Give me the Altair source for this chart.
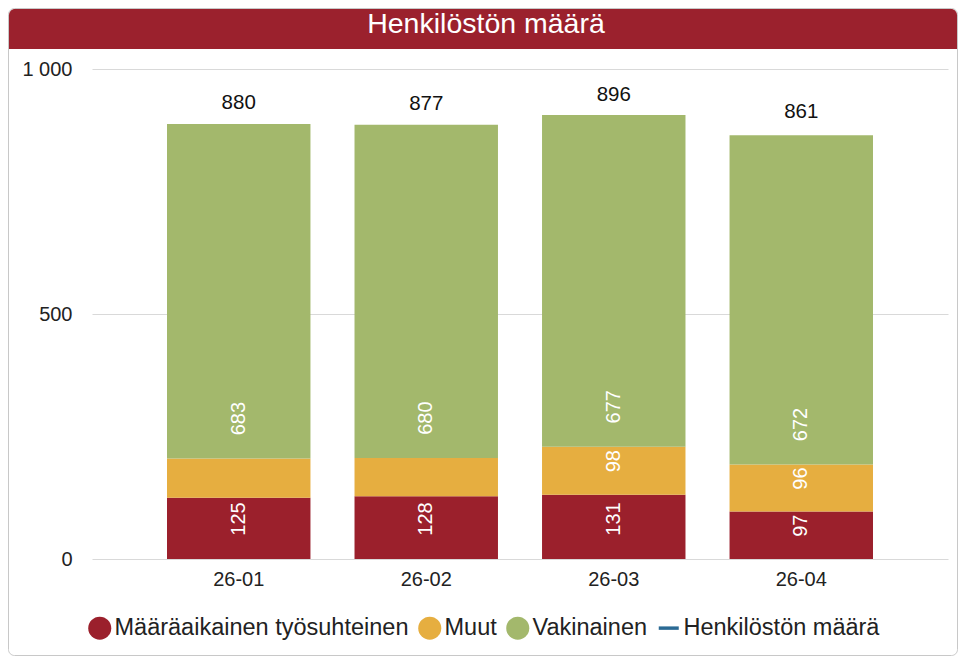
import altair as alt
import pandas as pd

kuukaudet = ["26-01", "26-02", "26-03", "26-04"]
maaraaikainen = [125, 128, 131, 97]
muut = [80, 78, 98, 96]
vakinainen = [683, 680, 677, 672]
henkilosto = [880, 877, 896, 861]
muut_nakyva = [False, False, True, True]

sarjat = ["Määräaikainen työsuhteinen", "Muut", "Vakinainen", "Henkilöstön määrä"]
varit = ["#9B202C", "#E6AE40", "#A3B86C", "#2B6A94"]
FONT = "Liberation Sans"

rows = []
for i, kk in enumerate(kuukaudet):
    rows.append({"kk": kk, "sarja": sarjat[0], "arvo": maaraaikainen[i], "jarj": 0, "nayta": True})
    rows.append({"kk": kk, "sarja": sarjat[1], "arvo": muut[i], "jarj": 1, "nayta": muut_nakyva[i]})
    rows.append({"kk": kk, "sarja": sarjat[2], "arvo": vakinainen[i], "jarj": 2, "nayta": True})
df = pd.DataFrame(rows)
tot = pd.DataFrame({"kk": kuukaudet, "total": henkilosto})

W, H = 856, 490

xscale = alt.Scale(domain=kuukaudet, paddingInner=0.235, paddingOuter=0.4)
yscale = alt.Scale(domain=[0, 1000])
color_scale = alt.Scale(domain=sarjat, range=varit)
shape_scale = alt.Scale(domain=sarjat, range=["circle", "circle", "circle", "M-0.87,-0.15H0.87V0.15H-0.87Z"])

xenc = alt.X("kk:N", scale=xscale, sort=kuukaudet,
             axis=alt.Axis(title=None, labelAngle=0, ticks=False, domain=False, grid=False,
                           labelFontSize=20, labelFont=FONT, labelColor="#222", labelPadding=10))

one = alt.InlineData(values=[{"a": 1}])

card = alt.Chart(one).mark_rect(fill=None, stroke="#c8c8c8", strokeWidth=1, cornerRadius=6).encode(
    x=alt.value(-83.5), x2=alt.value(865.5), y=alt.value(-60.5), y2=alt.value(586.5))

titlebar = alt.Chart(one).mark_rect(fill="#9B212D", cornerRadiusTopLeft=6, cornerRadiusTopRight=6).encode(
    x=alt.value(-83), x2=alt.value(865), y=alt.value(-60), y2=alt.value(-20))

titletext = alt.Chart(one).mark_text(text="Henkilöstön määrä", color="white", fontSize=28.5, font=FONT,
                                     align="center", baseline="middle").encode(
    x=alt.value(394), y=alt.value(-45))

leg = dict(orient="none", legendX=-4, legendY=547, direction="horizontal",
           title=None, symbolSize=529, labelFontSize=23.5, labelFont=FONT,
           labelColor="#222", columnPadding=9, labelOffset=3,
           labelLimit=500, symbolStrokeWidth=0, symbolOpacity=1, zindex=2)

stacked = alt.Chart(df).transform_stack(
    stack="arvo", groupby=["kk"], sort=[alt.SortField("jarj", order="ascending")], as_=["y0", "y1"])

bars = stacked.mark_bar().encode(
    x=xenc,
    y=alt.Y("y0:Q", scale=yscale,
            axis=alt.Axis(title=None, values=[0, 500, 1000], ticks=False, domain=False,
                          gridColor="#d9d9d9", labelFontSize=20, labelFont=FONT, labelColor="#222",
                          labelPadding=20,
                          labelExpr="replace(format(datum.value, ','), ',', ' ')")),
    y2="y1:Q",
    color=alt.Color("sarja:N", scale=color_scale, legend=alt.Legend(**leg)),
)

labels = stacked.transform_filter("datum.nayta").transform_calculate(
    ly="datum.y0 + min(81.6, 0.7 * datum.arvo)"
).mark_text(angle=270, align="center", baseline="middle", color="white", fontSize=20, font=FONT).encode(
    x=alt.X("kk:N", scale=xscale, sort=kuukaudet),
    y=alt.Y("ly:Q", scale=yscale),
    text="arvo:Q",
)

totals = alt.Chart(tot).mark_text(dy=-25, color="#111", fontSize=20.5, font=FONT, baseline="middle").encode(
    x=alt.X("kk:N", scale=xscale, sort=kuukaudet),
    y=alt.Y("total:Q", scale=yscale),
    text="total:Q",
)

legend_layer = alt.Chart(df).mark_point(filled=True, opacity=0).encode(
    color=alt.Color("sarja:N", scale=color_scale, legend=alt.Legend(**leg)),
    shape=alt.Shape("sarja:N", scale=shape_scale, legend=alt.Legend(**leg)),
)

chart = alt.layer(card, titlebar, titletext, bars, labels, totals, legend_layer).properties(
    width=W, height=H,
    autosize=alt.AutoSizeParams(type="none"),
    padding={"left": 84, "top": 61, "right": 10, "bottom": 97},
    background="white",
).configure_view(stroke=None)

chart.save("out.html", embed_options={"renderer": "svg", "actions": False})
